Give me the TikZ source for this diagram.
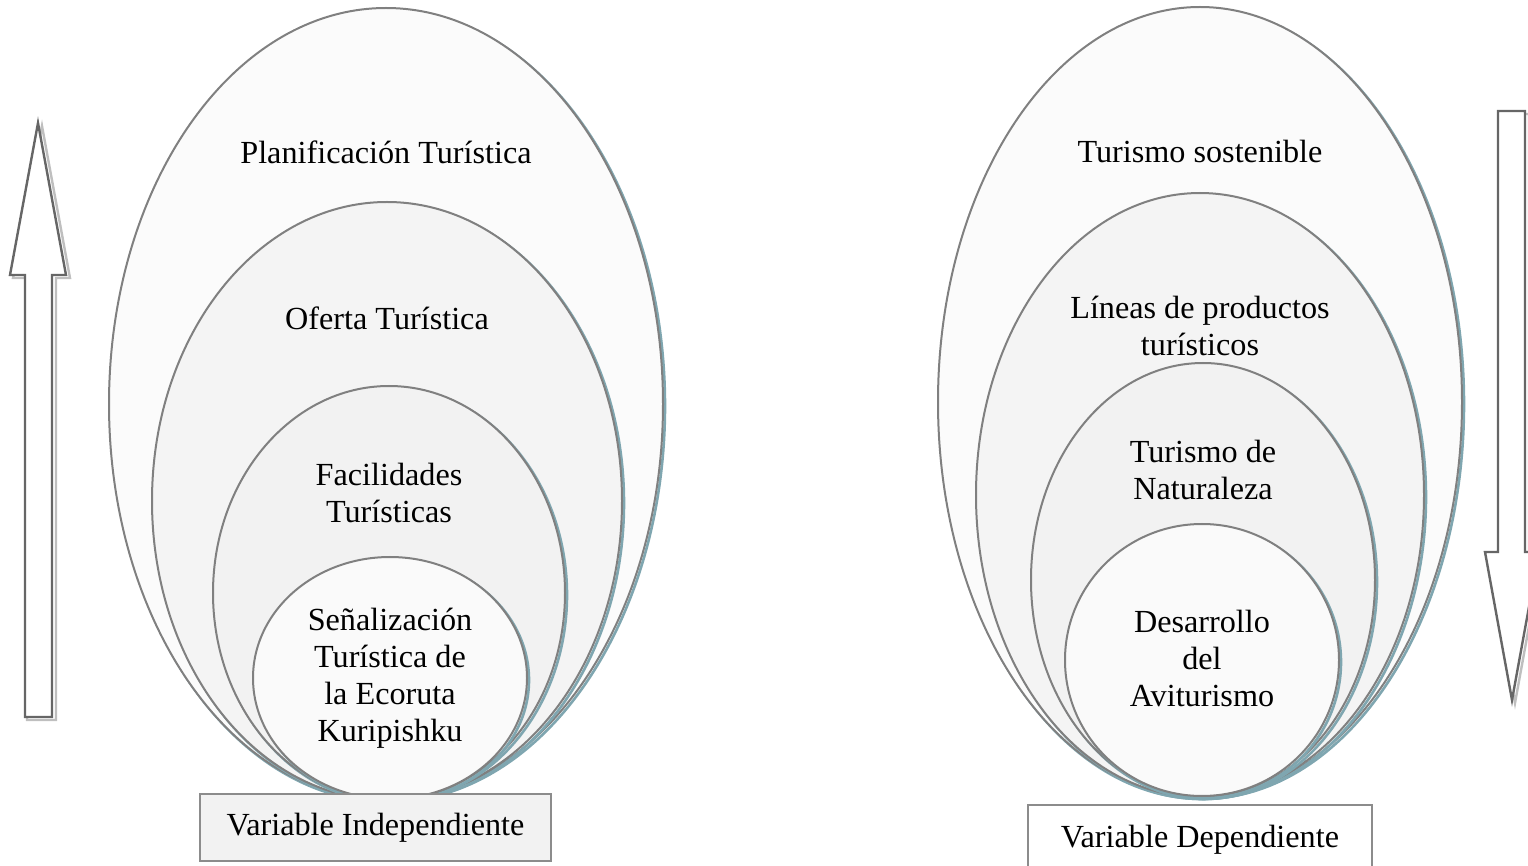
\documentclass[tikz,border=0pt]{standalone}
\usepackage{fontspec}
\setmainfont{Liberation Serif}
\usetikzlibrary{positioning}
\definecolor{shadowblue}{HTML}{7FA6B0}

\begin{document}
\begin{tikzpicture} [x=0.5pt,y=-0.5pt,{ring/.style={draw=black!50,line width=1pt}},{ringshadow/.style={draw=shadowblue,line width=1.3pt}},{txt/.style={font=\fontsize{16.1}{18.5}\selectfont,align=center,inner sep=0pt}},{varbox/.style={rectangle,draw=black!45,line width=1pt,inner sep=0pt,font=\fontsize{16.1}{18.5}\selectfont}},{arrowline/.style={draw=black!60,line width=1.2pt,fill=white}},{arrowshadow/.style={draw=black!25,line width=1.2pt}}]
	%%frame
	\useasboundingbox (0,0) rectangle (1528,866);
	\clip (0,0) rectangle (1528,866);
	%%left arrow
	\draw [arrowshadow] (42,126) -- (70,278) -- (56,278) -- (56,720) -- (27,720) -- (27,278) -- (13,278) -- cycle;
	\draw [arrowline] (38,123) -- (66,275) -- (52,275) -- (52,717) -- (25,717) -- (25,275) -- (10,275) -- cycle;
	%%right arrow
	\draw [arrowshadow] (1501,114) -- (1529,114) -- (1529,555) -- (1542,555) -- (1515,703) -- (1488,555) -- (1501,555) -- cycle;
	\draw [arrowline] (1498,111) -- (1525,111) -- (1525,552) -- (1539,552) -- (1512,700) -- (1485,552) -- (1498,552) -- cycle;
	%%left ellipses
	\draw [ringshadow] (388,406) ellipse (277 and 396);
	\draw [ring,fill=gray!3] (386,404) ellipse (277 and 396);
	\draw [ringshadow] (389,503) ellipse (235 and 299);
	\draw [ring,fill=gray!9] (387,501) ellipse (235 and 299);
	\draw [ringshadow] (391,595) ellipse (176 and 207);
	\draw [ring,fill=gray!10] (389,593) ellipse (176 and 207);
	\draw [ringshadow] (392,680) ellipse (137 and 121);
	\draw [ring,fill=gray!4] (390,678) ellipse (137 and 121);
	%%right ellipses
	\draw [ringshadow] (1202,404) ellipse (262 and 395);
	\draw [ring,fill=gray!3] (1200,402) ellipse (262 and 395);
	\draw [ringshadow] (1202,497) ellipse (224 and 302);
	\draw [ring,fill=gray!9] (1200,495) ellipse (224 and 302);
	\draw [ringshadow] (1205,582) ellipse (172 and 217);
	\draw [ring,fill=gray!10] (1203,580) ellipse (172 and 217);
	\draw [ringshadow] (1204,662) ellipse (137 and 136);
	\draw [ring,fill=gray!4] (1202,660) ellipse (137 and 136);
	%%labels
	\node [txt] (planif) at (386,152) {Planificación Turística};
	\node [txt] (oferta) at (387,318) {Oferta Turística};
	\node [txt] (facil) at (389,493) {Facilidades\\Turísticas};
	\node [txt] (senal) at (390,678) {Señalización\\Turística de\\la Ecoruta\\Kuripishku};
	\node [txt] (sostenible) at (1200,151) {Turismo sostenible};
	\node [txt] (lineas) at (1200,326) {Líneas de productos\\turísticos};
	\node [txt] (naturaleza) at (1203,470) {Turismo de\\Naturaleza};
	\node [txt] (aviturismo) at (1202,658) {Desarrollo\\del\\Aviturismo};
	%%variables
	\node [varbox,fill=gray!10,minimum width=175.5pt,minimum height=33.5pt] (indep) at (375.5,827.5) {Variable Independiente};
	\node [varbox,fill=white,minimum width=172pt,minimum height=35pt] (dep) at (1200,840) {Variable Dependiente};
\end{tikzpicture}
\end{document}
